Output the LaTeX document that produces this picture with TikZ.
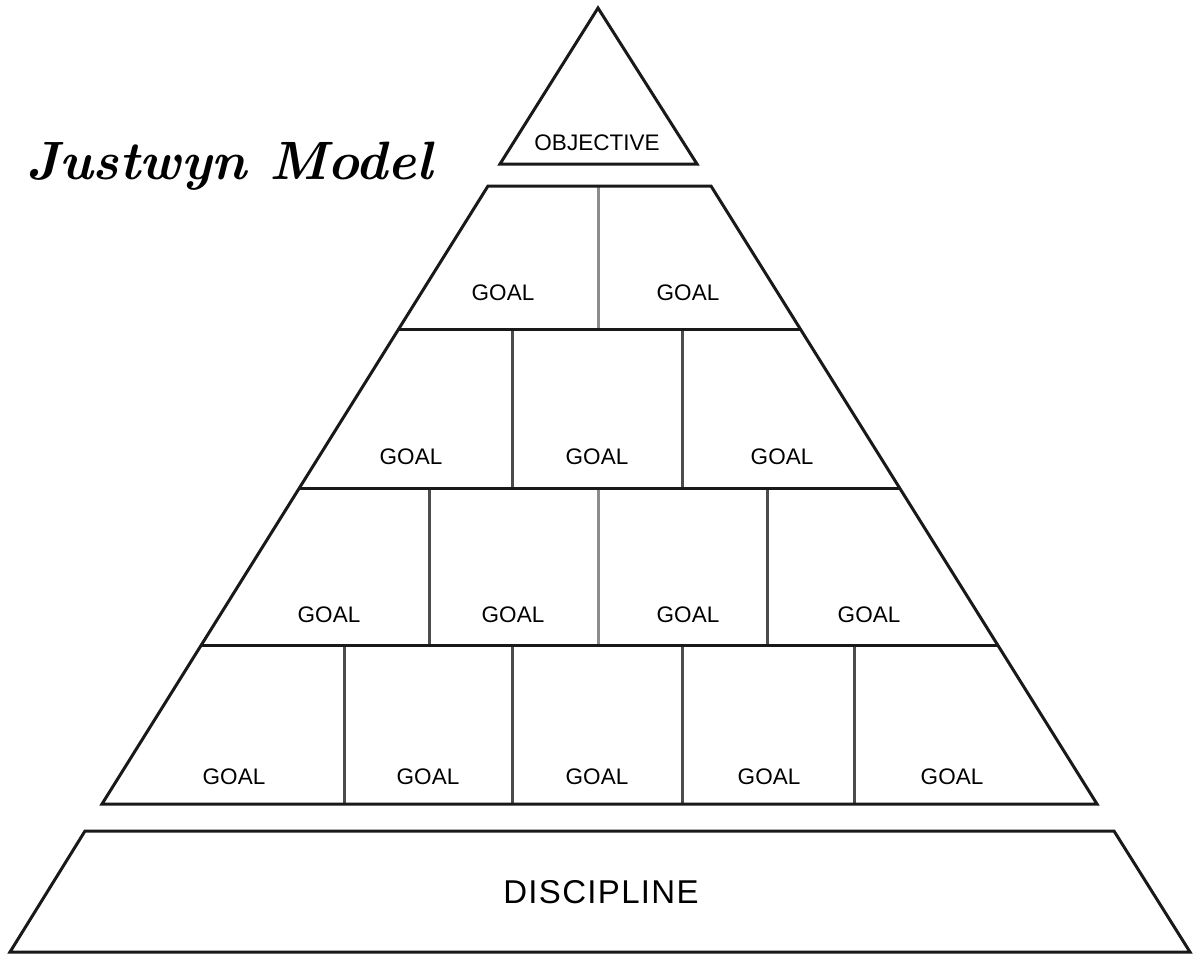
\documentclass[tikz,border=0pt]{standalone}
\usepackage{fontspec}
\usetikzlibrary{calc}
\newfontfamily\lab{Liberation Sans}
\begin{document}
\begin{tikzpicture}[x=1pt,y=-1pt,
  outer/.style={line width=3pt, draw=black!90, line join=miter},
  divd/.style={line width=3pt, draw=black!70},
  divl/.style={line width=3pt, draw=black!45},
  goal/.style={font=\lab\fontsize{22.5}{24}\selectfont, inner sep=0pt, text=black},
  objlab/.style={font=\lab\fontsize{22.5}{24}\selectfont, inner sep=0pt, text=black},
  disclab/.style={font=\lab\fontsize{33}{36}\selectfont\addfontfeatures{LetterSpace=4}, inner sep=0pt, text=black},
  titlelab/.style={font=\rmfamily\bfseries\itshape\fontsize{54}{60}\selectfont, inner sep=0pt, anchor=base west}]
\useasboundingbox[fill=white] (0,0) rectangle (1200,962);

% top triangle
\coordinate (apex) at (598,8);
\coordinate (tbl) at (500,164);
\coordinate (tbr) at (697,164);
\draw[outer] (apex) -- (tbr) -- (tbl) -- cycle;
\node[objlab] (objective) at (597,143) {OBJECTIVE};

% title
\node[titlelab] (title) at (26,179) {Justwyn Model};

% main trapezoid corners
\coordinate (t0l) at (488,186);
\coordinate (t0r) at (711,186);
\coordinate (b4l) at (102,804);
\coordinate (b4r) at (1097,804);
% row boundaries
\coordinate (r1l) at ($(t0l)!0.2314!(b4l)$);
\coordinate (r1r) at ($(t0r)!0.2314!(b4r)$);
\coordinate (r2l) at ($(t0l)!0.4887!(b4l)$);
\coordinate (r2r) at ($(t0r)!0.4887!(b4r)$);
\coordinate (r3l) at ($(t0l)!0.7427!(b4l)$);
\coordinate (r3r) at ($(t0r)!0.7427!(b4r)$);

% dividers
\draw[divl] (598,186) -- (598,329);
\draw[divd] (512,329) -- (512,488);
\draw[divd] (682,329) -- (682,488);
\draw[divd] (429,488) -- (429,645);
\draw[divl] (598,488) -- (598,645);
\draw[divd] (767,488) -- (767,645);
\draw[divd] (344,645) -- (344,804);
\draw[divd] (512,645) -- (512,804);
\draw[divd] (682,645) -- (682,804);
\draw[divd] (854,645) -- (854,804);

\draw[outer] (t0l) -- (t0r) -- (b4r) -- (b4l) -- cycle;
\draw[outer] (r1l) -- (r1r);
\draw[outer] (r2l) -- (r2r);
\draw[outer] (r3l) -- (r3r);

% goal labels
\node[goal] (g11) at (503,293) {GOAL};
\node[goal] (g12) at (688,293) {GOAL};
\node[goal] (g21) at (411,457) {GOAL};
\node[goal] (g22) at (597,457) {GOAL};
\node[goal] (g23) at (782,457) {GOAL};
\node[goal] (g31) at (329,615) {GOAL};
\node[goal] (g32) at (513,615) {GOAL};
\node[goal] (g33) at (688,615) {GOAL};
\node[goal] (g34) at (869,615) {GOAL};
\node[goal] (g41) at (234,777) {GOAL};
\node[goal] (g42) at (428,777) {GOAL};
\node[goal] (g43) at (597,777) {GOAL};
\node[goal] (g44) at (769,777) {GOAL};
\node[goal] (g45) at (952,777) {GOAL};

% discipline base
\coordinate (dtl) at (85,831);
\coordinate (dtr) at (1114,831);
\coordinate (dbr) at (1190,952);
\coordinate (dbl) at (10,952);
\draw[outer] (dtl) -- (dtr) -- (dbr) -- (dbl) -- cycle;
\node[disclab] (discipline) at (601,892) {DISCIPLINE};
\end{tikzpicture}
\end{document}
